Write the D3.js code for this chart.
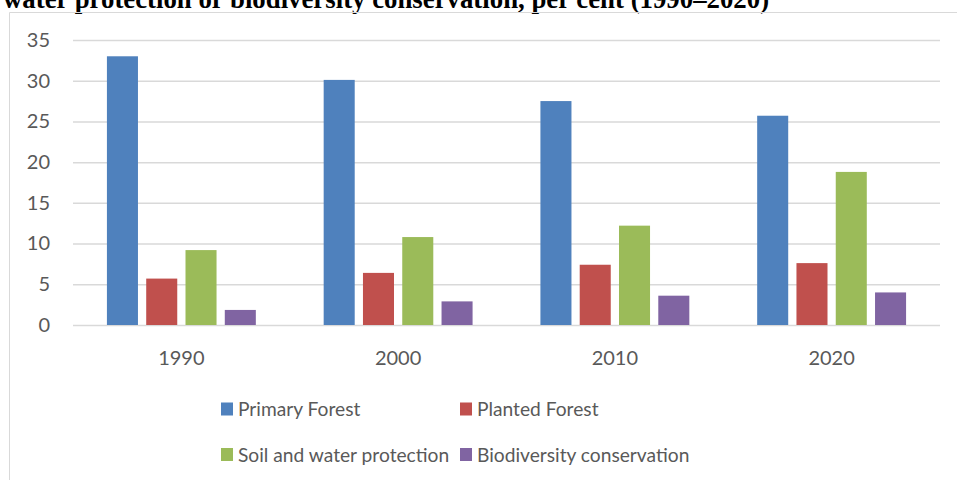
<!DOCTYPE html>
<html>
<head>
<meta charset="utf-8">
<script src="https://cdn.jsdelivr.net/npm/d3@7"></script>
<style>
  body { margin: 0; background: #fff; }
  svg { display: block; }
  .tick-label { font-family: Lato, "Open Sans", sans-serif; fill: #595959; }
</style>
</head>
<body>
<div id="bar-chart"></div>
<script>
// forest area chart, 1990-2020

var years = ["1990", "2000", "2010", "2020"];
var seriesNames = ["Primary Forest", "Planted Forest", "Soil and water protection", "Biodiversity conservation"];
var seriesColors = ["#4f81bd", "#c0504d", "#9bbb59", "#8064a2"];
var primaryForest = [33.0, 30.1, 27.5, 25.7];
var plantedForest = [5.7, 6.4, 7.4, 7.6];
var soilWater = [9.2, 10.8, 12.2, 18.8];
var biodiversity = [1.85, 2.9, 3.6, 4.0];
var yTicks = [0, 5, 10, 15, 20, 25, 30, 35];

var seriesValues = [primaryForest, plantedForest, soilWater, biodiversity];

var width = 957, height = 480;
var plotLeft = 73, plotRight = 940, plotTop = 40, plotBottom = 325;

var chart = d3.select("#bar-chart").append("svg")
    .attr("width", width)
    .attr("height", height);

// title, cut off at the top like the original
chart.append("text")
    .attr("x", 3)
    .attr("y", 7.5)
    .attr("font-family", "Liberation Serif, Times New Roman, serif")
    .attr("font-weight", "bold")
    .attr("font-size", 26.8)
    .attr("fill", "#000")
    .text("water protection or biodiversity conservation, per cent (1990\u20132020)");

// chart frame
chart.append("path")
    .attr("d", "M9.5,480V12.5H957")
    .attr("fill", "none")
    .attr("stroke", "#d9d9d9")
    .attr("stroke-width", 1);

var y = d3.scaleLinear()
    .domain([0, 35])
    .range([plotBottom, plotTop]);

var x0 = d3.scaleBand()
    .domain(years)
    .range([plotLeft, plotRight])
    .padding(0);

var groupW = x0.bandwidth() * 0.687;
var x1 = d3.scaleBand()
    .domain(seriesNames)
    .range([(x0.bandwidth() - groupW) / 2, (x0.bandwidth() + groupW) / 2])
    .paddingInner(0.21)
    .paddingOuter(0);

// gridlines + y labels
var yAxis = chart.append("g")
    .attr("transform", "translate(" + plotLeft + ",0)")
    .call(d3.axisLeft(y)
        .tickValues(yTicks)
        .tickSize(-(plotRight - plotLeft))
        .tickPadding(23)
        .tickFormat(d3.format("d")));
yAxis.select(".domain").remove();
yAxis.selectAll(".tick line")
    .attr("stroke", "#d9d9d9")
    .attr("stroke-width", 1.5);
yAxis.selectAll(".tick text")
    .attr("class", "tick-label")
    .attr("font-size", 20);

// x labels
var xAxis = chart.append("g")
    .attr("transform", "translate(0," + plotBottom + ")")
    .call(d3.axisBottom(x0).tickSize(0).tickPadding(26));
xAxis.select(".domain").remove();
xAxis.selectAll(".tick text")
    .attr("class", "tick-label")
    .attr("font-size", 20);

// bars
var groups = chart.selectAll(".year-group").data(years).enter().append("g")
    .attr("class", "year-group")
    .attr("transform", function(d) { return "translate(" + x0(d) + ",0)"; });

groups.selectAll("rect")
    .data(function(d, i) {
        return seriesNames.map(function(name, s) {
            return {name: name, value: seriesValues[s][i], color: seriesColors[s]};
        });
    })
    .enter().append("rect")
    .attr("x", function(d) { return x1(d.name); })
    .attr("y", function(d) { return y(d.value); })
    .attr("width", x1.bandwidth())
    .attr("height", function(d) { return y(0) - y(d.value); })
    .attr("fill", function(d) { return d.color; });

// legend, 2 x 2
var legendCols = [221, 460];
var legendRows = [416, 461.5];
var legend = chart.selectAll(".legend-item").data(seriesNames).enter().append("g")
    .attr("class", "legend-item")
    .attr("transform", function(d, i) {
        return "translate(" + legendCols[i % 2] + "," + legendRows[Math.floor(i / 2)] + ")";
    });

legend.append("rect")
    .attr("x", 0)
    .attr("y", -13.5)
    .attr("width", 12)
    .attr("height", 13)
    .attr("fill", function(d, i) { return seriesColors[i]; });

legend.append("text")
    .attr("class", "tick-label")
    .attr("x", 17)
    .attr("y", 0)
    .attr("font-size", 19.2)
    .text(function(d) { return d; });
</script>
</body>
</html>
